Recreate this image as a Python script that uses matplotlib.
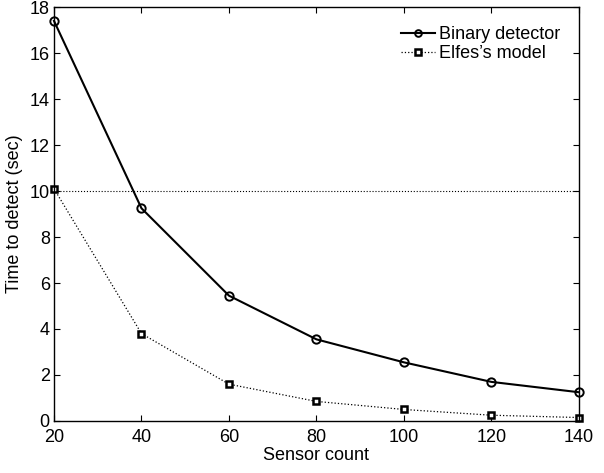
import matplotlib
matplotlib.use("Agg")
import matplotlib.pyplot as plt

plt.rcParams['font.family'] = ['Liberation Sans', 'DejaVu Sans']

sensor_count = [20, 40, 60, 80, 100, 120, 140]
binary_detector = [17.4, 9.25, 5.45, 3.55, 2.55, 1.7, 1.25]
elfes_model = [10.1, 3.8, 1.6, 0.85, 0.5, 0.25, 0.15]
threshold = 10
x_ticks = [20, 40, 60, 80, 100, 120, 140]
y_ticks = [0, 2, 4, 6, 8, 10, 12, 14, 16, 18]

fig = plt.figure(figsize=(6.04, 4.73), dpi=100)
ax = fig.add_axes([0.0894, 0.110, 0.869, 0.875])

ax.axhline(threshold, color='black', linestyle=':', linewidth=0.8)
ax.plot(sensor_count, binary_detector, color='black', linewidth=1.5,
        marker='o', markersize=6, markerfacecolor='none', markeredgewidth=1.4,
        label='Binary detector', clip_on=False)
ax.plot(sensor_count, elfes_model, color='black', linewidth=0.9, linestyle=':',
        marker='s', markersize=4.8, markerfacecolor='white', markeredgewidth=1.8,
        label="Elfes\u2019s model", clip_on=False)

ax.set_xlim(20, 140)
ax.set_ylim(0, 18)
ax.set_xticks(x_ticks)
ax.set_yticks(y_ticks)
ax.tick_params(direction='in', top=True, right=True, labelsize=13, length=4)
ax.tick_params(axis='x', pad=5.5)
ax.tick_params(axis='y', pad=3)
for s in ax.spines.values():
    s.set_linewidth(1.0)

ax.set_xlabel('Sensor count', fontsize=13, labelpad=1)
ax.set_ylabel('Time to detect (sec)', fontsize=13, labelpad=5)

leg = ax.legend(loc='upper right', fontsize=13, frameon=False,
                handlelength=1.9, handletextpad=0.2, markerscale=0.8,
                borderaxespad=0.65, labelspacing=0.1)

fig.savefig('out.png', dpi=100)
